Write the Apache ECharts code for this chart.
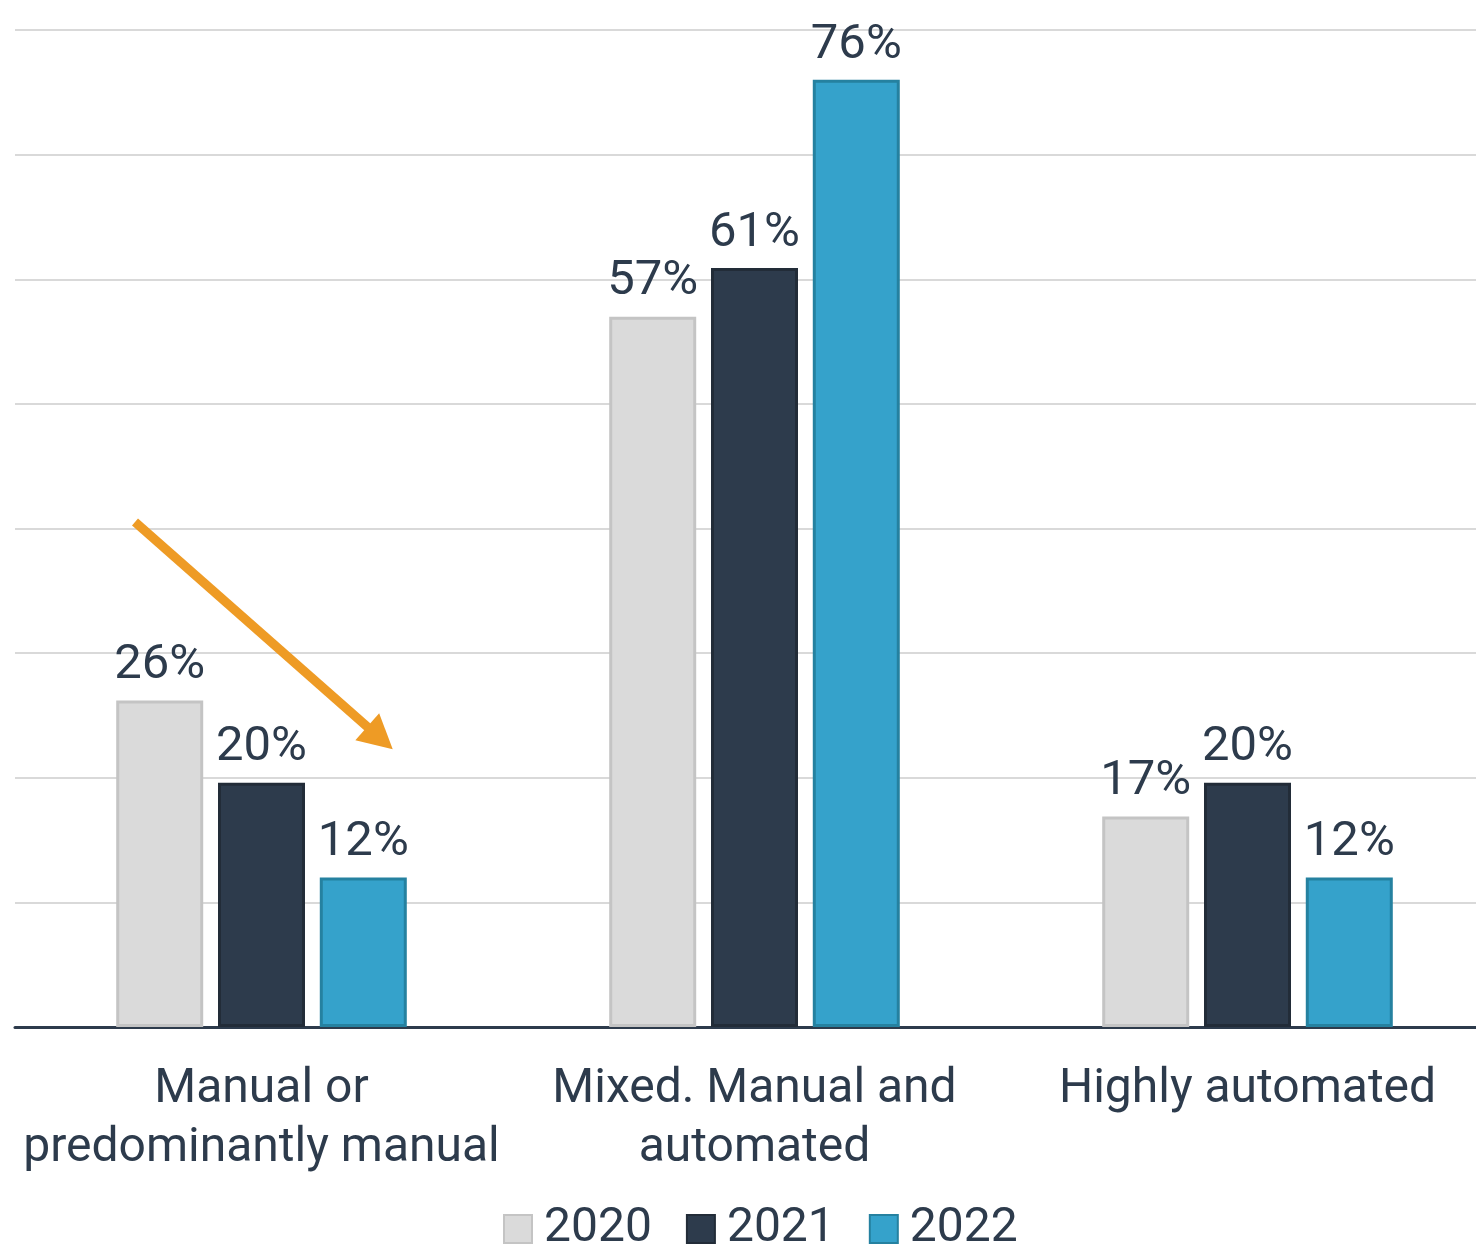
<!DOCTYPE html>
<html>
<head>
<meta charset="utf-8">
<title>Automation level</title>
<script src="https://cdn.jsdelivr.net/npm/echarts@6/dist/echarts.min.js"></script>
<style>
  html, body { margin: 0; padding: 0; background: #fff; }
  #main { width: 1476px; height: 1248px; }
</style>
</head>
<body>
<div id="main"></div>
<script>
var categories = ['Manual or\npredominantly manual', 'Mixed. Manual and\nautomated', 'Highly automated'];
var years = ['2020', '2021', '2022'];
var values2020 = [26.2, 57.0, 16.9];
var values2021 = [19.6, 60.9, 19.6];
var values2022 = [12.0, 76.0, 12.0];

var textColor = '#2d3b4c';
var fills = ['#dadada', '#2d3b4c', '#35a2cb'];
var borders = ['#c4c4c4', '#222c38', '#2581a0'];

var chart = echarts.init(document.getElementById('main'));

function barSeries(i, data) {
    return {
        name: years[i],
        type: 'bar',
        data: data,
        barWidth: 87,
        barGap: '17%',
        itemStyle: {color: fills[i], borderColor: borders[i], borderWidth: 3},
        label: {
            show: true,
            position: 'top',
            distance: 10,
            formatter: function (p) { return Math.round(p.value) + '%'; },
            color: textColor,
            fontSize: 49,
            fontFamily: 'Roboto'
        },
        emphasis: {disabled: true}
    };
}

var series = [
    barSeries(0, values2020),
    barSeries(1, values2021),
    barSeries(2, values2022)
];

// orange trend arrow over the first group
series[0].markLine = {
    silent: true,
    animation: false,
    symbol: ['none', 'triangle'],
    symbolSize: [36, 34],
    label: {show: false},
    lineStyle: {color: '#ee9b25', width: 9, type: 'solid'},
    data: [[{x: 135, y: 522}, {x: 380, y: 738}]]
};

chart.setOption({
    animation: false,
    textStyle: {fontFamily: 'Roboto'},
    // plot runs a little past the right edge, as in the original
    grid: {left: 15, width: 1479, top: 30, bottom: 221, containLabel: false, outerBoundsMode: 'none'},
    legend: {
        data: years,
        top: 1205,
        left: 503,
        padding: 0,
        icon: 'rect',
        itemWidth: 28,
        itemHeight: 28,
        itemGap: 34,
        textStyle: {color: textColor, fontSize: 48, fontFamily: 'Roboto', padding: [0, 0, 0, 7]}
    },
    xAxis: {
        type: 'category',
        data: categories,
        axisTick: {show: false},
        axisLine: {lineStyle: {color: '#2d3b4c', width: 3}},
        axisLabel: {
            color: textColor,
            fontSize: 48,
            lineHeight: 59,
            margin: 33,
            interval: 0,
            fontFamily: 'Roboto'
        }
    },
    yAxis: {
        type: 'value',
        min: 0,
        max: 80,
        interval: 10,
        axisLabel: {show: false},
        axisLine: {show: false},
        axisTick: {show: false},
        splitLine: {lineStyle: {color: '#d9d9d9', width: 2}}
    },
    series: series
});
</script>
</body>
</html>
